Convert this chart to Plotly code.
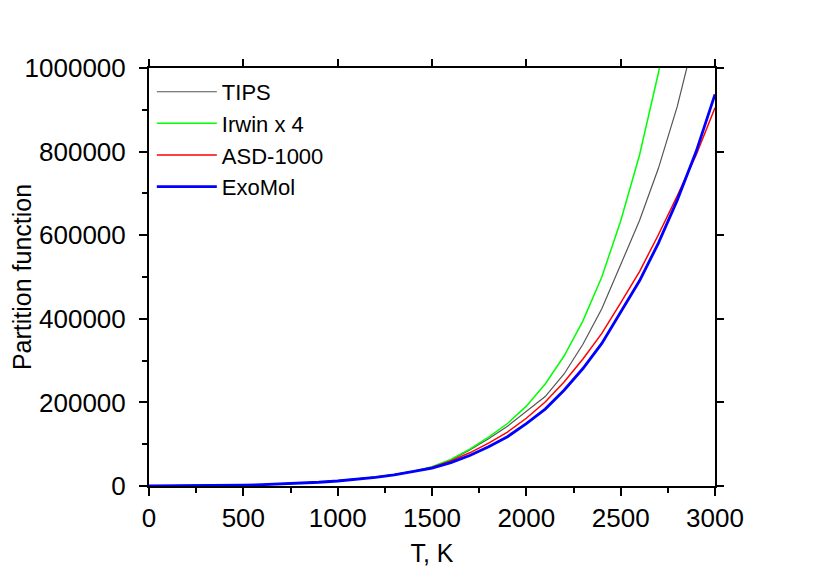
import plotly.graph_objects as go

# temperature grid, K
T = [0, 100, 200, 300, 400, 500, 600, 700, 800, 900, 1000,
     1100, 1200, 1300, 1400, 1500, 1600, 1700, 1800, 1900, 2000,
     2100, 2200, 2300, 2400, 2500, 2600, 2700, 2800, 2900, 3000]

tips = [1, 80, 300, 700, 1300, 2100, 3250, 4800, 6800, 9300, 12500,
        16400, 21200, 27200, 35000, 45500, 62000, 86000, 113000, 143000, 179000,
        214000, 268000, 339000, 424000, 530000, 635000, 760000, 908000, 1090000, 1300000]

irwin = [1, 80, 300, 700, 1300, 2100, 3250, 4800, 6800, 9300, 12500,
         16400, 21300, 27500, 35500, 46000, 63700, 88000, 117000, 149500, 191000,
         244000, 311000, 395000, 500000, 634000, 792000, 988000, 1220000, 1510000, 1860000]

asd = [1, 80, 305, 710, 1320, 2140, 3260, 4790, 6730, 9180, 12400,
       16200, 21000, 27000, 34800, 45000, 59800, 79400, 102600, 129000, 162000,
       201000, 249000, 304000, 365000, 438000, 513000, 601000, 694000, 792000, 905000]

exomol = [1, 80, 300, 700, 1300, 2100, 3200, 4700, 6600, 9000, 12000,
          15800, 20500, 26500, 34000, 43000, 56000, 73000, 94000, 118000, 149000,
          184000, 229000, 281000, 341000, 415000, 491000, 581000, 684000, 800000, 937000]

fig = go.Figure()
fig.add_trace(go.Scatter(x=T, y=tips, mode="lines", name="TIPS",
                         line=dict(color="#555555", width=1.2)))
fig.add_trace(go.Scatter(x=T, y=irwin, mode="lines", name="Irwin x 4",
                         line=dict(color="#00ff00", width=1.5)))
fig.add_trace(go.Scatter(x=T, y=asd, mode="lines", name="ASD-1000",
                         line=dict(color="#ff0000", width=1.5)))
fig.add_trace(go.Scatter(x=T, y=exomol, mode="lines", name="ExoMol",
                         line=dict(color="#0000ff", width=2.8)))
# empty trace so the top/right tick axes get their own subplot
fig.add_trace(go.Scatter(x=[], y=[], xaxis="x2", yaxis="y2",
                         showlegend=False, hoverinfo="skip"))

axis_style = dict(linecolor="black", linewidth=2, automargin=False,
                  ticks="outside", ticklen=8, tickwidth=2, tickcolor="black",
                  showgrid=False, zeroline=False,
                  tickfont=dict(size=26, color="black"))
minor_style = dict(ticks="outside", ticklen=5, tickwidth=2, tickcolor="black")

fig.update_layout(
    xaxis=dict(range=[0, 3000], dtick=500, tick0=0, showline=True, mirror=True,
               title=dict(text="T, K", font=dict(size=25, color="black"), standoff=12),
               minor=dict(dtick=250, **minor_style), **axis_style),
    yaxis=dict(range=[0, 1000000], dtick=200000, tick0=0, tickformat="d",
               showline=True, mirror=True, ticklabelstandoff=8,
               title=dict(text="Partition function", font=dict(size=25, color="black"), standoff=12),
               minor=dict(dtick=100000, **minor_style), **axis_style),
    # top and right frame: major ticks only
    xaxis2=dict(range=[0, 3000], dtick=500, tick0=0, overlaying="x", side="top",
                anchor="y2", showticklabels=False, showline=False, **axis_style),
    yaxis2=dict(range=[0, 1000000], dtick=200000, tick0=0, overlaying="y", side="right",
                anchor="x2", showticklabels=False, showline=False, **axis_style),
    width=822, height=573,
    margin=dict(l=141, r=115, t=60, b=95),
    plot_bgcolor="white", paper_bgcolor="white",
    font=dict(family="Liberation Sans, Arial", color="black"),
    legend=dict(x=0.005, y=0.993, xanchor="left", yanchor="top",
                bgcolor="rgba(0,0,0,0)", font=dict(size=22),
                tracegroupgap=0, itemwidth=60),
    showlegend=True,
)

fig.write_html("out.html")
